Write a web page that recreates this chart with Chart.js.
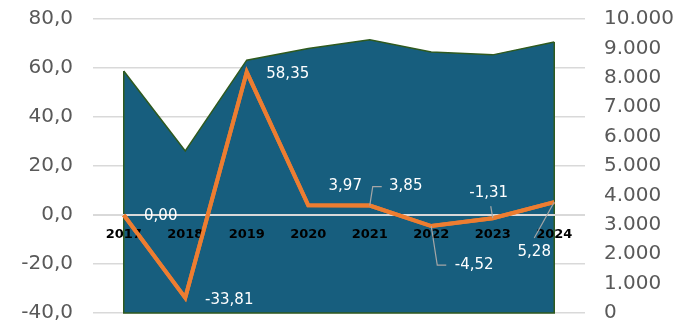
<!DOCTYPE html>
<html>
<head>
<meta charset="utf-8">
<script src="https://cdn.jsdelivr.net/npm/chart.js@4/dist/chart.umd.min.js"></script>
<style>
  html, body { margin: 0; padding: 0; background: #fff; }
  #wrap { width: 681px; height: 323px; }
</style>
</head>
<body>
<div id="wrap"><canvas id="myChart"></canvas></div>
<script>
// data
const years = ['2017', '2018', '2019', '2020', '2021', '2022', '2023', '2024'];
const changePct = [0.00, -33.81, 58.35, 3.97, 3.85, -4.52, -1.31, 5.28];
const volume = [8230, 5510, 8600, 9000, 9290, 8880, 8780, 9220];

// where each value label sits relative to its point, plus leader lines
const labelPos = [
  { dx: 37, dy: 1 },
  { dx: 44, dy: 2 },
  { dx: 41, dy: 2 },
  { dx: 37, dy: -19 },
  { dx: 36, dy: -19, leader: [[0, 0], [3, -19], [12, -19]] },
  { dx: 43, dy: 39, leader: [[0, 0], [6, 39], [15, 39]] },
  { dx: -4, dy: -25, leader: [[0, 0], [-2, -12]] },
  { dx: -20, dy: 50, leader: [[0, 0], [-20, 36]] }
];

const fmtLeft = v => v.toFixed(1).replace('.', ',');
const fmtRight = v => String(Math.round(v)).replace(/\B(?=(\d{3})+(?!\d))/g, '.');

const areaExtras = {
  id: 'areaExtras',
  afterDatasetDraw(chart, args) {
    const c = chart.ctx;
    const area = chart.chartArea;
    if (args.index === 1) {
      // vertical edges of the area
      const pts = args.meta.data;
      c.save();
      c.strokeStyle = '#2f5a1f';
      c.lineWidth = 1.5;
      c.beginPath();
      c.moveTo(pts[0].x, pts[0].y);
      c.lineTo(pts[0].x, area.bottom);
      c.lineTo(pts[pts.length - 1].x, area.bottom);
      c.lineTo(pts[pts.length - 1].x, pts[pts.length - 1].y);
      c.stroke();
      // zero line of the left axis
      const y0 = chart.scales.y.getPixelForValue(0);
      c.strokeStyle = '#d9d9d9';
      c.lineWidth = 2;
      c.beginPath();
      c.moveTo(area.left, y0);
      c.lineTo(area.right, y0);
      c.stroke();
      c.restore();
    }
  },
  afterDraw(chart) {
    // orange line goes over the year labels, as in the original
    const meta = chart.getDatasetMeta(0);
    meta.controller.draw();
    const c = chart.ctx;
    const pts = meta.data;
    c.save();
    c.font = '15px "DejaVu Sans", Verdana, sans-serif';
    c.textAlign = 'center';
    c.textBaseline = 'middle';
    pts.forEach((p, i) => {
      const pos = labelPos[i];
      if (pos.leader) {
        c.strokeStyle = '#a6a6a6';
        c.lineWidth = 1.2;
        c.beginPath();
        pos.leader.forEach((q, k) => {
          if (k === 0) c.moveTo(p.x + q[0], p.y + q[1]);
          else c.lineTo(p.x + q[0], p.y + q[1]);
        });
        c.stroke();
      }
      c.fillStyle = '#ffffff';
      c.fillText(changePct[i].toFixed(2).replace('.', ','), p.x + pos.dx, p.y + pos.dy);
    });
    c.restore();
  }
};

const ctx = document.getElementById('myChart');

new Chart(ctx, {
  data: {
    labels: years,
    datasets: [{
      type: 'line',
      label: 'change',
      data: changePct,
      yAxisID: 'y',
      borderColor: '#ed7d31',
      borderWidth: 4,
      pointRadius: 0,
      tension: 0,
      order: 0
    }, {
      type: 'line',
      label: 'volume',
      data: volume,
      yAxisID: 'y2',
      borderColor: '#2f5a1f',
      borderWidth: 1.5,
      backgroundColor: '#175e7e',
      fill: 'start',
      pointRadius: 0,
      tension: 0,
      order: 1
    }]
  },
  options: {
    responsive: true,
    maintainAspectRatio: false,
    animation: false,
    layout: { padding: { top: 19, bottom: 10, left: 0, right: 0 } },
    plugins: {
      legend: { display: false },
      tooltip: { enabled: false }
    },
    scales: {
      x: {
        type: 'category',
        offset: true,
        position: { y: 0 },
        grid: { display: false, drawTicks: false },
        border: { display: false },
        ticks: {
          z: 1,
          padding: 12,
          color: '#000',
          maxRotation: 0,
          font: { family: '"DejaVu Sans", Verdana, sans-serif', size: 13, weight: 'bold' }
        }
      },
      y: {
        position: 'left',
        min: -40,
        max: 80,
        ticks: {
          stepSize: 20,
          padding: 20,
          color: '#595959',
          callback: v => fmtLeft(v),
          font: { family: '"DejaVu Sans", Verdana, sans-serif', size: 20, lineHeight: 1 }
        },
        grid: { color: '#d9d9d9', lineWidth: 1.5, drawTicks: false },
        border: { display: false },
        afterFit(scale) { scale.width = 93; scale.paddingTop = 0; scale.paddingBottom = 0; }
      },
      y2: {
        position: 'right',
        min: 0,
        max: 10000,
        ticks: {
          stepSize: 1000,
          autoSkip: false,
          padding: 19,
          color: '#595959',
          callback: v => fmtRight(v),
          font: { family: '"DejaVu Sans", Verdana, sans-serif', size: 20, lineHeight: 1 }
        },
        grid: { display: false, drawTicks: false },
        border: { display: false },
        afterFit(scale) { scale.width = 96; scale.paddingTop = 0; scale.paddingBottom = 0; }
      }
    }
  },
  plugins: [areaExtras]
});
</script>
</body>
</html>
